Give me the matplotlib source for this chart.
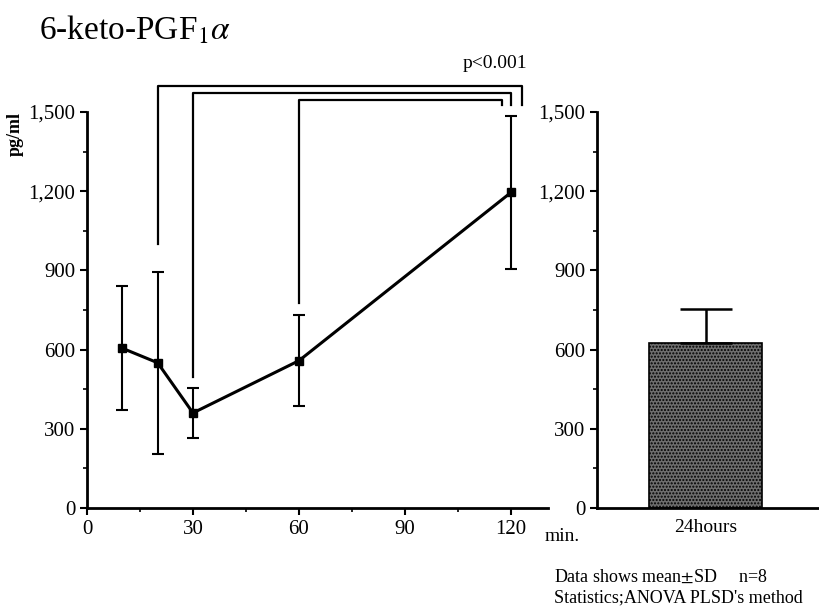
import matplotlib
matplotlib.use("Agg")
import matplotlib.pyplot as plt
from matplotlib.ticker import MultipleLocator, FuncFormatter

plt.rcParams['font.family'] = ['Liberation Serif', 'DejaVu Serif']
plt.rcParams['mathtext.fontset'] = 'stix'

# Time course (min) : mean and SD
minutes = [10, 20, 30, 60, 120]
mean_vals = [605, 550, 360, 558, 1195]
sd_vals = [235, 345, 95, 172, 290]

# 24 hours bar
bar_label = ['24hours']
bar_mean = [625]
bar_sd = [130]

# Significance brackets : (from time, to time) against 120 min
pairs = [(20, 123), (30, 120), (60, 117.5)]
bracket_levels = [1598, 1572, 1545]
leg_ends = [1000, 496, 776]

fig = plt.figure(figsize=(8.19, 6.15), dpi=100)
ax = fig.add_axes([0.1062, 0.174, 0.563, 0.644])
ax2 = fig.add_axes([0.729, 0.174, 0.271, 0.644])

thousands = FuncFormatter(lambda v, p: f'{int(v):,}')

# Left panel: line with error bars
ax.errorbar(minutes, mean_vals, yerr=sd_vals, color='black', lw=2.2,
            marker='s', markersize=6, elinewidth=1.5, capsize=4, capthick=1.5)
ax.set_xlim(0, 130.5)
ax.set_ylim(0, 1500)
ax.xaxis.set_major_locator(MultipleLocator(30))
ax.xaxis.set_minor_locator(MultipleLocator(15))
ax.yaxis.set_major_locator(MultipleLocator(300))
ax.yaxis.set_minor_locator(MultipleLocator(150))
ax.yaxis.set_major_formatter(thousands)

# Right panel: bar
ax2.bar([0], bar_mean, width=0.51, color='#6e6e6e', edgecolor='black',
        linewidth=1.2, hatch='.....')
ax2.errorbar([0], bar_mean, yerr=[[0], bar_sd], color='black', lw=0,
             elinewidth=1.8, capsize=19, capthick=1.8)
ax2.set_xlim(-0.49, 0.51)
ax2.set_ylim(0, 1500)
ax2.set_xticks([0])
ax2.set_xticklabels(bar_label)
ax2.yaxis.set_major_locator(MultipleLocator(300))
ax2.yaxis.set_minor_locator(MultipleLocator(150))
ax2.yaxis.set_major_formatter(thousands)

for a in (ax, ax2):
    for s in ('top', 'right'):
        a.spines[s].set_visible(False)
    a.spines['left'].set_linewidth(2)
    a.spines['bottom'].set_linewidth(2)
    a.tick_params(which='major', direction='out', length=5, width=1.5, labelsize=15)
    a.tick_params(which='minor', direction='out', length=3, width=1.2)
ax2.tick_params(axis='x', length=0, labelsize=14, pad=8)

# Brackets
for (x0, x1), lvl, end in zip(pairs, bracket_levels, leg_ends):
    ax.plot([x0, x0, x1, x1], [end, lvl, lvl, 1526], color='black', lw=1.6,
            clip_on=False)
ax.text(124.5, 1650, 'p<0.001', ha='right', va='bottom', fontsize=14)

# Labels
ax.text(-0.155, 1.0, 'pg/ml', transform=ax.transAxes, rotation=90,
        ha='center', va='top', fontsize=13, fontweight='bold')
fig.text(0.665, 0.128, 'min.', fontsize=14, va='center')
fig.text(0.048, 0.95, r'6-keto-PGF$_{1}\alpha$', fontsize=24, va='center')
fig.text(0.677, 0.062, 'Data shows mean$\\pm$SD     n=8', fontsize=13, va='center')
fig.text(0.677, 0.028, "Statistics;ANOVA PLSD's method", fontsize=13, va='center')

fig.savefig('out.png', dpi=100)
